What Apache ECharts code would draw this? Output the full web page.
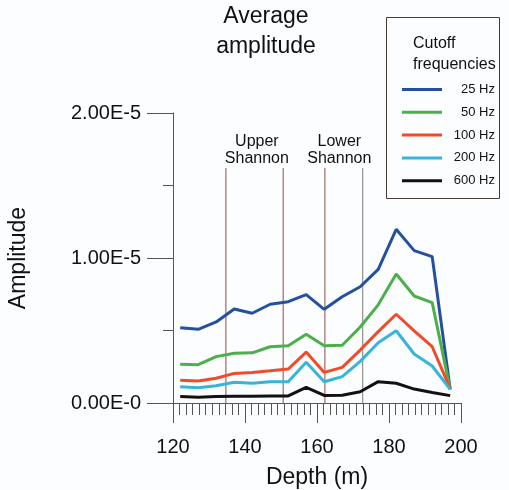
<!DOCTYPE html>
<html><head><meta charset="utf-8">
<script src="https://cdn.jsdelivr.net/npm/echarts@6/dist/echarts.min.js"></script>
<style>html,body{margin:0;padding:0;background:#fcfdff}#c{width:509px;height:490px}</style>
</head><body><div id="c"></div>
<script>
// Depth (m) of each sample
const depths = [122,127,132,137,142,147,152,157,162,167,172,177,182,187,192,197];
// Average amplitude, in units of 1e-6
const amp25Hz  = [5.19,5.08,5.59,6.48,6.19,6.81,6.99,7.47,6.46,7.33,8.02,9.22,11.98,10.51,10.09,0.94];
const amp50Hz  = [2.67,2.64,3.20,3.43,3.46,3.88,3.95,4.74,3.95,3.98,5.24,6.77,8.90,7.38,6.92,0.94];
const amp100Hz = [1.57,1.52,1.71,2.04,2.11,2.22,2.34,3.51,2.11,2.46,3.65,4.92,6.12,4.98,3.88,0.99];
const amp200Hz = [1.12,1.05,1.19,1.43,1.36,1.47,1.47,2.81,1.47,1.82,2.87,4.16,4.98,3.38,2.55,0.94];
const amp600Hz = [0.44,0.39,0.44,0.46,0.47,0.48,0.49,1.08,0.52,0.54,0.78,1.47,1.36,0.96,0.73,0.51];
const UNIT = 1e-6;
const seriesNames = ['25 Hz','50 Hz','100 Hz','200 Hz','600 Hz'];
const seriesValues = [amp25Hz, amp50Hz, amp100Hz, amp200Hz, amp600Hz];
const seriesColors = ['#2450a0','#4cb04a','#f24a2a','#36b5d8','#111111'];
const yTickLabels = ['0.00E-0','1.00E-5','2.00E-5'];
const xTickLabels = ['120','140','160','180','200'];
// Formation boundary markers
const boundaryDepths = [134.7, 150.6, 162.2, 172.7];
const boundaryColors = ['#8a5045','#8a5045','#8a5045','#7a7a7a'];
const boundaryTop = 16.2; // 1e-6 units
const zoneNames = ['Upper\nShannon', 'Lower\nShannon'];
const zoneCenters = [143.3, 166.2];
const zoneLabelLevel = 17.45; // 1e-6 units

const FONT = 'Liberation Sans, Arial, Helvetica, sans-serif';
const chart = echarts.init(document.getElementById('c'));

const series = seriesNames.map((n, i) => ({
  name: n, type: 'line', symbol: 'none', z: 5,
  data: depths.map((d, j) => [d, seriesValues[i][j] * UNIT]),
  lineStyle: { color: seriesColors[i], width: 3 },
  itemStyle: { color: seriesColors[i] }
}));
boundaryDepths.forEach((d, i) => {
  series.push({
    type: 'line', symbol: 'none', silent: true, z: 2,
    data: [[d, 0], [d, boundaryTop * UNIT]],
    lineStyle: { color: boundaryColors[i], width: 1 }
  });
});

chart.setOption({
  backgroundColor: '#fcfdff',
  animation: false,
  textStyle: { fontFamily: FONT },
  grid: { left: 173, right: 48, top: 113, bottom: 87, containLabel: false, outerBoundsMode: 'none' },
  xAxis: {
    type: 'value', min: 120, max: 200, interval: 20,
    name: 'Depth (m)', nameLocation: 'middle', nameGap: 63,
    nameTextStyle: { fontSize: 23, color: '#111', fontFamily: FONT },
    axisLine: { show: true, lineStyle: { color: '#555', width: 1 } },
    axisTick: { show: true, length: 20, lineStyle: { color: '#555' } },
    minorTick: { show: true, splitNumber: 11, length: 12, lineStyle: { color: '#555' } },
    splitLine: { show: false },
    axisLabel: { fontSize: 20, color: '#111', margin: 34,
      formatter: v => xTickLabels[Math.round((v - 120) / 20)] }
  },
  yAxis: {
    type: 'value', min: 0, max: 2e-5, interval: 1e-5,
    name: 'Amplitude', nameLocation: 'middle', nameGap: 143,
    nameTextStyle: { fontSize: 23, color: '#111', fontFamily: FONT },
    axisLine: { show: true, lineStyle: { color: '#555', width: 1 } },
    axisTick: { show: true, length: 26, lineStyle: { color: '#555' } },
    minorTick: { show: true, splitNumber: 2, length: 10, lineStyle: { color: '#555' } },
    splitLine: { show: false },
    axisLabel: { fontSize: 20, color: '#111', margin: 32,
      formatter: v => yTickLabels[Math.round(v / 1e-5)] }
  },
  legend: {
    data: seriesNames.map(n => ({ name: n, icon: 'path://M0,0L40,0L40,3L0,3Z' })),
    orient: 'vertical', left: 397, top: 78,
    itemWidth: 40, itemHeight: 3, itemGap: 9.8,
    formatter: n => '{n|' + n + '}',
    textStyle: { rich: { n: { width: 48, align: 'right', fontSize: 13, color: '#111', fontFamily: FONT } } }
  },
  series: series
});

function px(x, y) { return chart.convertToPixel({ gridIndex: 0 }, [x, y]); }
const graphics = [
  { type: 'rect', shape: { x: 386.5, y: 17.5, width: 113, height: 181 },
    style: { fill: null, stroke: '#4a3a35', lineWidth: 1 }, z: 1 },
  { type: 'text', x: 413, y: 33, style: { text: 'Cutoff\nfrequencies', fontSize: 16, lineHeight: 21,
    fill: '#111', fontFamily: FONT, textAlign: 'left', textVerticalAlign: 'top' } },
  { type: 'text', x: 266, y: 2, style: { text: 'Average\namplitude', fontSize: 23, lineHeight: 30,
    fill: '#111', fontFamily: FONT, textAlign: 'center', textVerticalAlign: 'top' } }
];
zoneNames.forEach((t, i) => {
  const p = px(zoneCenters[i], zoneLabelLevel * UNIT);
  graphics.push({ type: 'text', x: p[0], y: p[1], style: { text: t, fontSize: 16, lineHeight: 16.5,
    fill: '#111', fontFamily: FONT, textAlign: 'center', textVerticalAlign: 'middle' } });
});
chart.setOption({ graphic: graphics });
</script></body></html>
